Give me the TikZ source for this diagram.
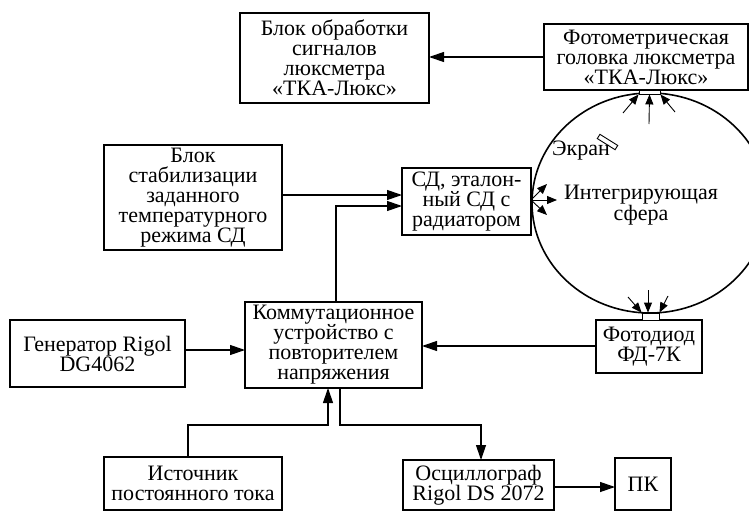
\documentclass[tikz,border=0pt]{standalone}
\usepackage{fontspec}
\setmainfont{Liberation Serif}
\usetikzlibrary{arrows.meta,shapes.geometric}
\begin{document}
\begin{tikzpicture}[x=1pt,y=-1pt,
  txt/.style={font=\fontsize{22}{20}\selectfont, align=center, inner sep=0pt, outer sep=0pt},
  box/.style={txt, draw, line width=1.2pt},
  conn/.style={line width=1.2pt, -{Triangle[length=15pt,width=10pt]}},
  small/.style={line width=0.9pt, -{Triangle[length=10pt,width=8pt]}}]
\useasboundingbox (0,0) rectangle (749,511);
\clip (0,0) rectangle (749,511);
% boxes
\node[box, minimum width=189pt, minimum height=90pt] (proc) at (334.5,58) {Блок обработки\\сигналов\\люксметра\\«ТКА-Люкс»};
\node[box, minimum width=204pt, minimum height=66pt] (photo) at (646,57) {Фотометрическая\\головка люксметра\\«ТКА-Люкс»};
\node[box, minimum width=178pt, minimum height=105pt] (stab) at (193,197.5) {Блок\\стабилизации\\заданного\\температурного\\режима СД};
\node[box, minimum width=129pt, minimum height=67pt] (sd) at (466.5,201.5) {СД, эталон-\\ный СД с\\радиатором};
\node[box, minimum width=175pt, minimum height=67pt] (gen) at (97.5,353.5) {Генератор Rigol\\DG4062};
\node[box, minimum width=177pt, minimum height=86pt] (comm) at (333.5,345) {Коммутационное\\устройство с\\повторителем\\напряжения};
\node[box, minimum width=106pt, minimum height=53pt] (fd) at (649,346.5) {Фотодиод\\ФД-7К};
\node[box, minimum width=178pt, minimum height=53pt] (ist) at (193,483.5) {Источник\\постоянного тока};
\node[box, minimum width=151pt, minimum height=50pt] (osc) at (478.5,485) {Осциллограф\\Rigol DS 2072};
\node[box, minimum width=56pt, minimum height=52pt] (pc) at (643,484) {ПК};
% sphere
\node[ellipse, draw, line width=1.6pt, minimum width=236pt, minimum height=220pt, inner sep=0pt, outer sep=0pt] (sph) at (650,203) {};
\node[txt] (sphtxt) at (641,205) {Интегрирующая\\сфера};
\node[txt] (scr) at (581,151) {Экран};
\node[draw, line width=0.9pt, minimum width=21pt, minimum height=5pt, inner sep=0pt, rotate=-32] (screen) at (607.5,142) {};
\node[draw, line width=0.9pt, fill=white, minimum width=21pt, minimum height=4pt, inner sep=0pt] (toprect) at (649.5,92) {};
\node[draw, line width=0.9pt, fill=white, minimum width=17pt, minimum height=7pt, inner sep=0pt] (botrect) at (650.5,316.5) {};
% main connectors
\draw[conn] (photo.west |- 0,57) -- (proc.east |- 0,57);
\draw[conn] (stab.east |- 0,195) -- (sd.west |- 0,195);
\draw[conn] (comm.north -| 336,0) -- (336,206) -- (sd.west |- 0,206);
\draw[conn] (gen.east |- 0,350) -- (comm.west |- 0,350);
\draw[conn] (fd.west |- 0,346) -- (comm.east |- 0,346);
\draw[conn] (ist.north -| 188,0) -- (188,425) -- (328,425) -- (comm.south -| 328,0);
\draw[conn] (comm.south -| 340,0) -- (340,425) -- (481,425) -- (osc.north -| 481,0);
\draw[conn] (osc.east |- 0,487) -- (pc.west |- 0,487);
% small arrows
\coordinate (t1) at (623,113);
\coordinate (t2) at (649,124);
\coordinate (t3) at (675,112);
\draw[small] (t1) -- (toprect.south west);
\draw[small] (t2) -- (toprect.south);
\draw[small] (t3) -- (toprect.south east);
\coordinate (b1) at (628,297);
\coordinate (b2) at (648,290);
\coordinate (b3) at (668,296);
\draw[small] (b1) -- (botrect.north west);
\draw[small] (b2) -- (botrect.north -| 648,0);
\draw[small] (b3) -- (botrect.north east);
\coordinate (s1) at (547,184);
\coordinate (s2) at (557,200);
\coordinate (s3) at (547,215);
\draw[small] (sd.east |- 0,200) -- (s1);
\draw[small] (sd.east |- 0,200) -- (s2);
\draw[small] (sd.east |- 0,200) -- (s3);
\end{tikzpicture}
\end{document}
